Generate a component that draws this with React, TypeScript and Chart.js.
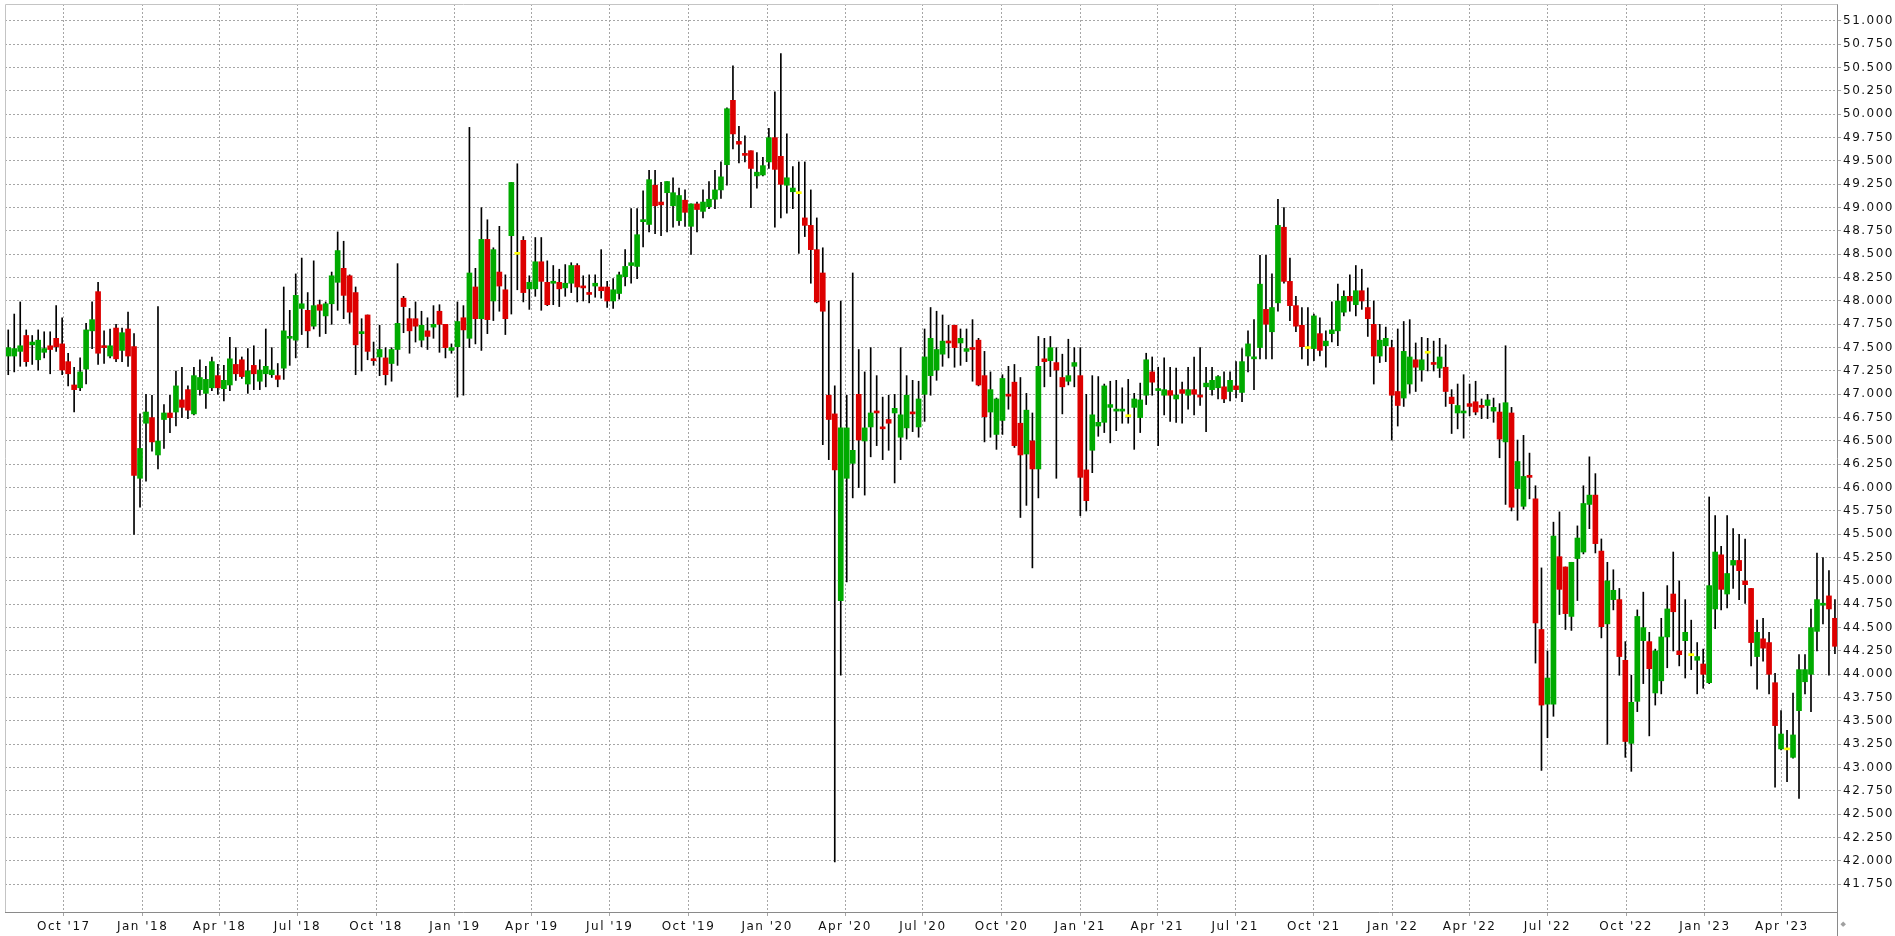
import React, { useEffect, useRef } from 'react';
import { Chart, registerables } from 'chart.js';

Chart.register(...registerables);

// Weekly candles; centre of the first candle
const FIRST_CANDLE_DATE = '2017-07-28';

const OPEN = [
  47.41, 47.41, 47.46, 47.63, 47.53, 47.37, 47.45, 47.52, 47.60, 47.54,
  47.35, 47.10, 47.07, 47.27, 47.68, 48.10, 47.52, 47.41, 47.71, 47.47,
  47.70, 47.51, 46.10, 46.69, 46.75, 46.35, 46.73, 46.80, 46.81, 46.94,
  47.05, 46.79, 47.05, 47.01, 47.07, 47.20, 47.06, 47.10, 47.32, 47.37,
  47.11, 47.31, 47.14, 47.22, 47.21, 47.20, 47.28, 47.60, 47.58, 47.92,
  47.90, 47.73, 47.96, 47.84, 47.97, 48.20, 48.35, 48.27, 48.09, 47.65,
  47.85, 47.38, 47.40, 47.39, 47.33, 47.48, 48.03, 47.81, 47.81, 47.58,
  47.68, 47.72, 47.89, 47.75, 47.47, 47.51, 47.82, 47.60, 48.15, 47.81,
  48.66, 48.00, 48.31, 48.12, 48.70, 48.50, 48.65, 48.13, 48.13, 48.42,
  48.20, 48.19, 48.20, 48.14, 48.19, 48.38, 48.16, 48.09, 48.16, 48.15,
  48.15, 48.00, 48.08, 48.26, 48.38, 48.37, 48.85, 48.82, 49.24, 49.06,
  49.16, 49.02, 48.86, 49.08, 48.80, 49.04, 48.96, 49.01, 49.09, 49.19,
  49.46, 50.15, 49.71, 49.58, 49.61, 49.34, 49.35, 49.49, 49.75, 49.55,
  49.24, 49.17, 49.15, 48.89, 48.81, 48.55, 48.30, 46.99, 46.79, 44.79,
  46.10, 46.26, 47.00, 46.50, 46.65, 46.82, 46.65, 46.73, 46.80, 46.54,
  46.64, 46.81, 46.65, 47.00, 47.20, 47.26, 47.43, 47.57, 47.74, 47.55,
  47.46, 47.50, 47.58, 47.20, 46.81, 46.57, 46.72, 47.00, 47.13, 46.69,
  46.36, 46.50, 46.20, 47.38, 47.36, 47.34, 47.18, 47.14, 47.30, 47.20,
  46.19, 46.40, 46.66, 46.70, 46.86, 46.82, 46.82, 46.76, 46.86, 46.75,
  46.99, 47.24, 47.04, 46.99, 47.04, 46.95, 47.05, 46.99, 47.05, 46.99,
  47.08, 47.05, 47.07, 47.08, 47.03, 47.09, 47.02, 47.41, 47.38, 47.50,
  47.91, 47.67, 47.98, 48.79, 48.21, 47.95, 47.74, 47.49, 47.49, 47.65,
  47.52, 47.65, 47.68, 47.88, 48.05, 47.96, 48.11, 47.93, 47.75, 47.41,
  47.52, 47.50, 47.03, 46.96, 47.11, 47.37, 47.26, 47.44, 47.34, 47.28,
  47.29, 46.97, 46.80, 46.80, 46.90, 46.92, 46.88, 46.88, 46.82, 46.81,
  46.49, 46.80, 45.99, 45.80, 46.12, 45.88, 44.48, 43.68, 43.68, 45.26,
  45.15, 44.62, 45.24, 45.31, 45.82, 45.92, 45.32, 44.54, 44.80, 44.80,
  44.15, 43.26, 43.71, 44.36, 44.35, 43.80, 43.93, 44.40, 44.86, 44.25,
  44.36, 44.20, 44.15, 44.11, 43.91, 44.70, 45.28, 44.86, 45.17, 45.22,
  45.00, 44.92, 44.19, 44.38, 44.34, 43.91, 43.20, 43.19, 43.11, 43.61,
  43.92, 44.00, 44.46, 44.74, 44.84, 44.60,
];

const HIGH = [
  47.69, 47.86, 47.99, 47.69, 47.63, 47.69, 47.67, 47.67, 47.95, 47.82,
  47.44, 47.29, 47.39, 47.76, 47.99, 48.20, 47.68, 47.70, 47.75, 47.71,
  47.88, 47.65, 46.79, 47.00, 46.99, 47.94, 46.89, 46.99, 47.25, 47.29,
  47.09, 47.29, 47.37, 47.30, 47.40, 47.32, 47.31, 47.61, 47.50, 47.40,
  47.49, 47.52, 47.37, 47.70, 47.50, 47.33, 48.15, 47.90, 48.29, 48.46,
  48.09, 48.43, 48.01, 47.99, 48.31, 48.74, 48.64, 48.28, 48.15, 47.81,
  47.85, 47.56, 47.74, 47.50, 47.50, 48.40, 48.05, 47.92, 47.99, 47.89,
  47.82, 47.95, 47.96, 47.75, 47.54, 47.99, 47.95, 49.86, 48.35, 49.00,
  48.87, 48.57, 48.80, 48.28, 49.27, 49.47, 48.69, 48.27, 48.68, 48.68,
  48.43, 48.38, 48.34, 48.39, 48.41, 48.40, 48.27, 48.28, 48.28, 48.55,
  48.21, 48.24, 48.31, 48.55, 48.99, 48.99, 49.18, 49.40, 49.40, 49.27,
  49.28, 49.32, 49.21, 49.19, 49.04, 49.06, 49.19, 49.28, 49.40, 49.49,
  50.07, 50.52, 49.87, 49.77, 49.61, 49.59, 49.54, 49.85, 50.24, 50.65,
  49.79, 49.44, 49.49, 49.49, 49.19, 48.89, 48.57, 48.00, 47.09, 48.00,
  46.99, 48.30, 47.48, 47.24, 47.50, 47.20, 46.97, 46.99, 47.00, 47.50,
  47.20, 47.15, 47.14, 47.70, 47.93, 47.89, 47.85, 47.74, 47.74, 47.70,
  47.70, 47.80, 47.60, 47.46, 47.24, 46.96, 47.21, 47.30, 47.32, 47.18,
  47.01, 46.80, 47.62, 47.60, 47.62, 47.50, 47.43, 47.59, 47.50, 47.50,
  47.00, 47.20, 47.19, 47.11, 47.14, 47.15, 47.07, 47.16, 47.01, 47.12,
  47.44, 47.40, 47.29, 47.39, 47.29, 47.28, 47.13, 47.29, 47.40, 47.50,
  47.29, 47.29, 47.20, 47.24, 47.24, 47.35, 47.49, 47.68, 47.80, 48.49,
  48.49, 48.29, 49.09, 49.00, 48.46, 48.05, 47.93, 47.93, 47.86, 47.82,
  47.68, 47.99, 48.18, 48.11, 48.28, 48.38, 48.34, 48.14, 48.00, 47.75,
  47.72, 47.58, 47.70, 47.78, 47.80, 47.55, 47.61, 47.60, 47.57, 47.60,
  47.53, 47.05, 47.11, 47.21, 47.11, 47.14, 46.95, 47.00, 46.96, 46.90,
  47.52, 46.86, 46.51, 46.56, 46.37, 46.02, 45.14, 44.25, 45.63, 45.74,
  45.15, 45.20, 45.59, 46.02, 46.33, 46.15, 45.45, 45.20, 45.12, 44.92,
  44.35, 43.99, 44.69, 44.88, 44.45, 44.27, 44.60, 44.95, 45.31, 45.00,
  44.80, 44.58, 44.34, 44.27, 45.90, 45.70, 45.37, 45.70, 45.56, 45.50,
  45.45, 44.92, 44.58, 44.60, 44.45, 44.01, 43.61, 43.40, 43.80, 44.21,
  44.21, 44.70, 45.30, 45.25, 45.11, 44.80,
];

const LOW = [
  47.21, 47.24, 47.30, 47.30, 47.32, 47.26, 47.39, 47.22, 47.46, 47.21,
  47.09, 46.81, 47.04, 47.11, 47.49, 47.32, 47.33, 47.39, 47.35, 47.35,
  47.30, 45.50, 45.79, 46.07, 46.39, 46.20, 46.42, 46.59, 46.66, 46.75,
  46.74, 46.78, 46.99, 46.85, 47.04, 47.00, 46.93, 47.04, 47.15, 47.17,
  47.01, 47.05, 47.05, 47.08, 47.18, 47.08, 47.16, 47.31, 47.39, 47.64,
  47.50, 47.70, 47.62, 47.65, 47.75, 47.90, 47.81, 47.76, 47.21, 47.25,
  47.37, 47.31, 47.20, 47.10, 47.14, 47.31, 47.66, 47.44, 47.56, 47.51,
  47.48, 47.60, 47.45, 47.39, 47.44, 46.97, 46.99, 47.50, 47.54, 47.47,
  47.65, 47.79, 47.89, 47.64, 47.86, 48.12, 47.99, 47.91, 48.05, 47.90,
  47.95, 47.96, 47.94, 48.05, 48.09, 47.99, 48.00, 47.98, 48.04, 48.03,
  47.93, 47.92, 48.02, 48.16, 48.19, 48.24, 48.58, 48.74, 48.72, 48.70,
  48.74, 48.79, 48.81, 48.80, 48.50, 48.74, 48.89, 48.99, 48.99, 49.10,
  49.24, 49.63, 49.48, 49.49, 49.00, 49.21, 49.34, 49.42, 48.79, 48.89,
  48.94, 48.99, 48.51, 48.69, 48.19, 47.98, 46.46, 46.30, 41.99, 43.99,
  44.99, 45.89, 46.00, 45.92, 46.33, 46.45, 46.30, 46.40, 46.05, 46.30,
  46.52, 46.60, 46.54, 46.71, 46.99, 47.15, 47.30, 47.39, 47.29, 47.31,
  47.35, 47.14, 47.09, 46.49, 46.54, 46.41, 46.57, 46.84, 46.43, 45.68,
  45.81, 45.14, 45.89, 47.08, 47.19, 46.10, 46.79, 47.10, 47.08, 45.70,
  45.75, 46.16, 46.55, 46.59, 46.48, 46.61, 46.69, 46.69, 46.41, 46.59,
  46.89, 46.99, 46.45, 46.78, 46.71, 46.70, 46.69, 46.84, 46.78, 46.88,
  46.60, 46.99, 46.95, 46.91, 46.93, 46.96, 46.92, 47.24, 47.05, 47.38,
  47.38, 47.38, 47.89, 48.19, 47.79, 47.67, 47.38, 47.31, 47.36, 47.41,
  47.29, 47.56, 47.52, 47.84, 47.89, 47.84, 47.91, 47.62, 47.11, 47.34,
  47.35, 46.51, 46.66, 46.87, 47.01, 47.03, 47.14, 47.25, 47.25, 47.18,
  46.87, 46.58, 46.63, 46.53, 46.77, 46.78, 46.74, 46.74, 46.70, 46.32,
  45.82, 45.75, 45.65, 45.77, 45.88, 44.12, 42.97, 43.32, 43.55, 44.64,
  44.48, 44.47, 44.79, 45.29, 45.56, 45.30, 44.39, 43.25, 44.69, 43.99,
  43.11, 42.96, 43.60, 43.90, 43.34, 43.67, 43.79, 44.07, 44.25, 44.09,
  43.96, 44.05, 43.79, 43.85, 43.90, 44.49, 44.69, 44.71, 44.92, 44.80,
  44.76, 44.09, 43.84, 44.14, 43.79, 42.79, 43.19, 42.85, 43.10, 42.67,
  43.79, 43.60, 44.25, 44.54, 43.99, 44.22,
];

const CLOSE = [
  47.50, 47.49, 47.52, 47.35, 47.56, 47.58, 47.49, 47.48, 47.51, 47.26,
  47.22, 47.05, 47.24, 47.69, 47.80, 47.44, 47.50, 47.52, 47.38, 47.66,
  47.41, 46.13, 46.42, 46.81, 46.49, 46.50, 46.80, 46.75, 47.09, 46.86,
  46.83, 47.20, 47.18, 47.16, 47.35, 47.07, 47.15, 47.38, 47.22, 47.19,
  47.25, 47.22, 47.26, 47.30, 47.26, 47.16, 47.68, 47.62, 48.06, 47.97,
  47.68, 47.95, 47.90, 47.97, 48.27, 48.54, 48.06, 47.88, 47.53, 47.67,
  47.46, 47.36, 47.48, 47.21, 47.48, 47.76, 47.94, 47.68, 47.73, 47.74,
  47.62, 47.75, 47.75, 47.50, 47.50, 47.78, 47.69, 48.30, 47.81, 48.66,
  47.80, 48.55, 48.16, 47.81, 49.27, 48.50, 48.09, 48.20, 48.42, 48.21,
  47.96, 48.21, 48.13, 48.19, 48.38, 48.15, 48.14, 48.07, 48.19, 48.11,
  48.00, 48.12, 48.28, 48.37, 48.41, 48.71, 48.87, 49.30, 49.02, 49.03,
  49.28, 49.16, 49.13, 48.95, 49.04, 48.98, 49.06, 49.09, 49.19, 49.33,
  50.06, 49.79, 49.68, 49.56, 49.42, 49.38, 49.45, 49.75, 49.41, 49.25,
  49.32, 49.21, 49.15, 48.81, 48.55, 47.99, 47.89, 46.73, 46.19, 46.64,
  46.64, 46.40, 46.51, 46.64, 46.80, 46.80, 46.63, 46.69, 46.85, 46.78,
  46.99, 46.79, 46.95, 47.40, 47.60, 47.48, 47.57, 47.55, 47.50, 47.60,
  47.49, 47.48, 47.10, 46.76, 47.05, 46.95, 47.17, 46.98, 46.45, 46.35,
  46.83, 46.20, 47.30, 47.35, 47.50, 47.26, 47.08, 47.20, 47.34, 46.11,
  45.86, 46.78, 46.70, 47.09, 46.89, 46.84, 46.84, 46.76, 46.95, 46.94,
  47.37, 47.13, 47.06, 47.05, 46.99, 46.99, 47.01, 47.05, 47.00, 46.97,
  47.12, 47.15, 47.19, 46.95, 47.15, 47.05, 47.35, 47.54, 47.40, 48.18,
  47.75, 47.93, 48.81, 48.21, 47.95, 47.73, 47.51, 47.49, 47.84, 47.47,
  47.57, 47.69, 48.00, 48.05, 48.00, 48.11, 48.00, 47.81, 47.41, 47.58,
  47.60, 46.99, 46.88, 47.46, 47.40, 47.29, 47.37, 47.44, 47.32, 47.40,
  47.03, 46.90, 46.88, 46.82, 46.87, 46.81, 46.86, 46.94, 46.86, 46.52,
  46.91, 45.79, 46.28, 46.12, 46.11, 44.55, 43.67, 43.96, 45.48, 44.91,
  44.65, 45.20, 45.46, 45.83, 45.92, 45.40, 44.51, 45.00, 44.90, 44.19,
  43.28, 43.70, 44.62, 44.50, 44.06, 44.25, 44.40, 44.70, 44.67, 44.21,
  44.45, 44.20, 44.19, 44.00, 44.95, 45.31, 44.91, 45.08, 45.22, 45.11,
  44.96, 44.34, 44.45, 44.28, 44.00, 43.45, 43.36, 43.19, 43.35, 44.05,
  44.05, 44.50, 44.80, 44.76, 44.70, 44.30,
];

const X_TICK_LABELS = [
  "Oct '17", "Jan '18", "Apr '18", "Jul '18", "Oct '18", "Jan '19", "Apr '19", "Jul '19",
  "Oct '19", "Jan '20", "Apr '20", "Jul '20", "Oct '20", "Jan '21", "Apr '21", "Jul '21",
  "Oct '21", "Jan '22", "Apr '22", "Jul '22", "Oct '22", "Jan '23", "Apr '23",
];

const Y_MIN = 41.453;
const Y_MAX = 51.182;
const Y_TICK_FIRST = 41.75;
const Y_TICK_LAST = 51.0;
const Y_TICK_STEP = 0.25;

// visible time window (days relative to 2018-01-01)
const X_MIN_DAY = -160.8;
const X_MAX_DAY = 1980.4;

const GREEN = '#00aa00';
const RED = '#dd0000';
const YELLOW = '#ffff00';
const WICK = '#000000';
const GRID = '#a6a6a6';
const AXIS = '#8a8a8a';
const FRAME = '#c4c4c4';
const TEXT = '#111111';

const MONTHS = ['Jan', 'Feb', 'Mar', 'Apr', 'May', 'Jun', 'Jul', 'Aug', 'Sep', 'Oct', 'Nov', 'Dec'];
const DAY_MS = 86400000;
const EPOCH = Date.UTC(2018, 0, 1);
const toDay = (t: number) => (t - EPOCH) / DAY_MS;
const firstDay = toDay(Date.parse(FIRST_CANDLE_DATE + 'T00:00:00Z'));
const labelDay = (lbl: string) => {
  const [m, y] = lbl.split(" '");
  return toDay(Date.UTC(2000 + Number(y), MONTHS.indexOf(m), 1));
};
const X_TICK_DAYS = X_TICK_LABELS.map(labelDay);

const framePlugin = {
  id: 'frame',
  beforeDraw(chart: any) {
    chart.ctx.letterSpacing = '1.5px';
  },
  afterDraw(chart: any) {
    const { ctx, chartArea: a } = chart;
    ctx.save();
    ctx.lineWidth = 1;
    ctx.strokeStyle = FRAME;
    const l = Math.round(a.left) + 0.5;
    const t = Math.round(a.top) + 0.5;
    const r = Math.round(a.right) + 0.5;
    ctx.beginPath();
    ctx.moveTo(l, a.bottom);
    ctx.lineTo(l, t);
    ctx.lineTo(r, t);
    ctx.stroke();
    ctx.strokeStyle = AXIS;
    ctx.beginPath();
    ctx.moveTo(r, a.bottom);
    ctx.lineTo(r, chart.height);
    ctx.stroke();
    ctx.letterSpacing = '0px';
    ctx.fillStyle = '#a0a0a0';
    ctx.font = '7px "DejaVu Sans"';
    ctx.textBaseline = 'middle';
    ctx.fillText('\u25C6', r + 3, a.bottom + 12);
    ctx.restore();
  },
};

export default function App() {
  const ref = useRef<HTMLCanvasElement | null>(null);

  useEffect(() => {
    if (!ref.current) return;
    const bodies = OPEN.map((o, i) => ({ x: firstDay + 7 * i, y: [o, CLOSE[i]] }));
    const wicks = OPEN.map((_, i) => ({ x: firstDay + 7 * i, y: [LOW[i], HIGH[i]] }));
    const colors = OPEN.map((o, i) => (CLOSE[i] > o ? GREEN : CLOSE[i] < o ? RED : YELLOW));
    const font = { family: '"DejaVu Sans"', size: 12 };

    const chart = new Chart(ref.current, {
      type: 'bar',
      data: {
        datasets: [
          {
            label: 'body',
            data: bodies as any,
            backgroundColor: colors,
            borderWidth: 0,
            barThickness: 5,
            grouped: false,
            minBarLength: 2,
            order: 0,
          },
          {
            label: 'wick',
            data: wicks as any,
            backgroundColor: WICK,
            borderWidth: 0,
            barThickness: 1,
            grouped: false,
            order: 1,
          },
        ],
      },
      options: {
        animation: false,
        responsive: false,
        maintainAspectRatio: false,
        events: [],
        layout: { autoPadding: false, padding: { left: 5, top: 4, right: 0, bottom: 0 } },
        plugins: { legend: { display: false }, tooltip: { enabled: false } },
        scales: {
          x: {
            type: 'linear',
            min: X_MIN_DAY,
            max: X_MAX_DAY,
            offset: false,
            grid: { color: GRID, offset: false, drawTicks: true, tickLength: 4, tickColor: GRID },
            border: { display: true, color: AXIS, width: 1, dash: [2, 2] },
            ticks: {
              autoSkip: false,
              maxRotation: 0,
              padding: 4,
              color: TEXT,
              font,
              callback: (_v: any, i: number) => X_TICK_LABELS[i] ?? '',
            },
            afterBuildTicks: (s: any) => {
              s.ticks = X_TICK_DAYS.map((v) => ({ value: v }));
            },
            afterFit: (s: any) => {
              s.height = 24;
              s.paddingLeft = 0;
              s.paddingRight = 0;
            },
          },
          y: {
            position: 'right',
            min: Y_MIN,
            max: Y_MAX,
            grid: { color: GRID, drawTicks: true, tickLength: 4, tickColor: GRID },
            border: { display: true, color: AXIS, width: 1, dash: [2, 2] },
            ticks: {
              stepSize: Y_TICK_STEP,
              includeBounds: false,
              autoSkip: false,
              padding: 2,
              color: TEXT,
              font,
              callback: (v: any) => Number(v).toFixed(3),
            },
            afterBuildTicks: (s: any) => {
              s.ticks = s.ticks.filter(
                (t: any) => t.value >= Y_TICK_FIRST - 1e-6 && t.value <= Y_TICK_LAST + 1e-6
              );
            },
            afterFit: (s: any) => {
              s.width = 58;
              s.paddingTop = 0;
              s.paddingBottom = 0;
            },
          },
        },
      } as any,
      plugins: [framePlugin],
    });
    return () => chart.destroy();
  }, []);

  return (
    <div style={{ position: 'fixed', left: 0, top: 0, width: 1895, height: 936, background: '#ffffff' }}>
      <canvas ref={ref} width={1895} height={936} style={{ display: 'block', width: 1895, height: 936 }} />
    </div>
  );
}
